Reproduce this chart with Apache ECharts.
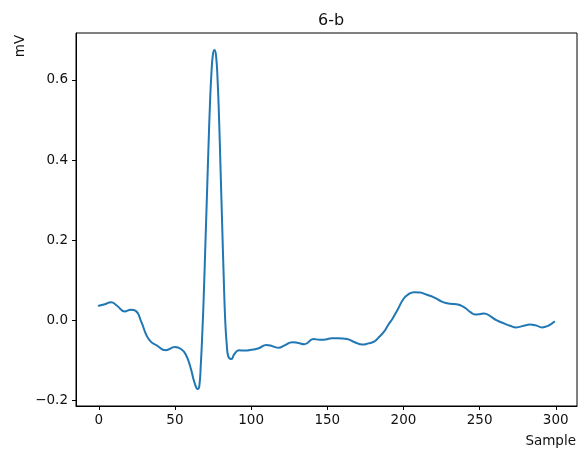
<!DOCTYPE html>
<html>
<head>
<meta charset="utf-8">
<style>
  html, body { margin: 0; padding: 0; background: #ffffff; }
  #chart { width: 584px; height: 452px; }
</style>
<script src="https://cdn.jsdelivr.net/npm/echarts@6/dist/echarts.min.js"></script>
</head>
<body>
<div id="chart"></div>
<script>
// ECG beat, lead 6-b: sample index and amplitude in mV
const samples = [
  0, 4, 8, 12, 17, 21, 24, 28, 31, 34, 38, 44, 50, 54, 57, 60, 63, 65,
  66, 67, 68, 69, 70, 71, 72, 73, 74, 75, 76, 77, 78, 79, 80, 81, 82, 83,
  84, 85, 87, 89, 92, 96, 100, 105, 110, 114, 118, 122, 127, 131, 135, 141,
  145, 149, 153, 157, 163, 168, 173, 177, 181, 184, 187, 190, 193, 196, 200,
  203, 207, 211, 215, 220, 226, 231, 235, 240, 244, 247, 250, 253, 257, 261,
  266, 270, 274, 279, 283, 287, 291, 295, 299
];
const millivolts = [
  0.036, 0.040, 0.045, 0.036, 0.022, 0.026, 0.024, -0.005, -0.035, -0.053, -0.063, -0.075, -0.067, -0.072, -0.085, -0.115, -0.158, -0.172,
  -0.165, -0.110, -0.030, 0.070, 0.190, 0.310, 0.430, 0.540, 0.620, 0.665, 0.675, 0.660, 0.600, 0.500, 0.370, 0.240, 0.110, 0.000,
  -0.060, -0.090, -0.097, -0.085, -0.075, -0.076, -0.074, -0.070, -0.062, -0.065, -0.069, -0.063, -0.055, -0.057, -0.060, -0.047,
  -0.049, -0.048, -0.045, -0.045, -0.047, -0.055, -0.061, -0.058, -0.053, -0.042, -0.030, -0.012, 0.005, 0.025, 0.053,
  0.064, 0.070, 0.069, 0.064, 0.057, 0.045, 0.041, 0.040, 0.032, 0.020, 0.014, 0.015, 0.017, 0.010, 0.000,
  -0.008, -0.014, -0.018, -0.014, -0.011, -0.013, -0.018, -0.014, -0.004
];
const xTicks = [0, 50, 100, 150, 200, 250, 300];
const yTicks = [-0.2, 0.0, 0.2, 0.4, 0.6];

const points = samples.map((s, i) => [s, millivolts[i]]);

// 5% margins around the data range on both axes
const xMin = Math.min(...samples), xMax = Math.max(...samples);
const yMin = Math.min(...millivolts), yMax = Math.max(...millivolts);
const xPad = (xMax - xMin) * 0.05, yPad = (yMax - yMin) * 0.05;

const FONT = 'DejaVu Sans';
const TEXT = '#111';
const fmt = v => {
  const r = Math.round(v * 10) / 10;
  const s = Math.abs(r).toFixed(1);
  return r < 0 ? '\u2212' + s : s;
};

const chart = echarts.init(document.getElementById('chart'), null, { renderer: 'canvas' });
chart.setOption({
  animation: false,
  backgroundColor: '#ffffff',
  title: {
    text: '6-b',
    left: 326, top: 8, textAlign: 'center',
    textStyle: { fontFamily: FONT, fontSize: 16, fontWeight: 'normal', color: TEXT }
  },
  grid: {
    left: 76, right: 7, top: 33, bottom: 46,
    show: true, borderColor: '#000', borderWidth: 1, backgroundColor: 'transparent'
  },
  xAxis: {
    type: 'value',
    min: xMin - xPad, max: xMax + xPad,
    axisLine: { show: true, onZero: false, lineStyle: { color: '#000', width: 1 } },
    axisTick: { show: true, length: 4, customValues: xTicks, lineStyle: { color: '#000' } },
    axisLabel: {
      customValues: xTicks, margin: 7,
      fontFamily: FONT, fontSize: 13.5, color: TEXT,
      formatter: v => String(Math.round(v))
    },
    splitLine: { show: false }
  },
  yAxis: {
    type: 'value',
    min: yMin - yPad, max: yMax + yPad,
    axisLine: { show: true, onZero: false, lineStyle: { color: '#000', width: 1 } },
    axisTick: { show: true, length: 4, customValues: yTicks, lineStyle: { color: '#000' } },
    axisLabel: {
      customValues: yTicks, margin: 8,
      fontFamily: FONT, fontSize: 13.5, color: TEXT,
      formatter: fmt
    },
    splitLine: { show: false }
  },
  graphic: [
    {
      type: 'text', x: 20, y: 46, rotation: Math.PI / 2,
      style: { text: 'mV', font: '13.5px "DejaVu Sans"', fill: TEXT, align: 'center', verticalAlign: 'middle' }
    },
    {
      type: 'text', x: 576, y: 441,
      style: { text: 'Sample', font: '13.5px "DejaVu Sans"', fill: TEXT, align: 'right', verticalAlign: 'middle' }
    }
  ],
  series: [{
    type: 'line',
    data: points,
    showSymbol: false,
    smooth: 0.5,
    lineStyle: { color: '#1f77b4', width: 2, cap: 'round', join: 'round' },
    clip: true
  }]
});
</script>
</body>
</html>
